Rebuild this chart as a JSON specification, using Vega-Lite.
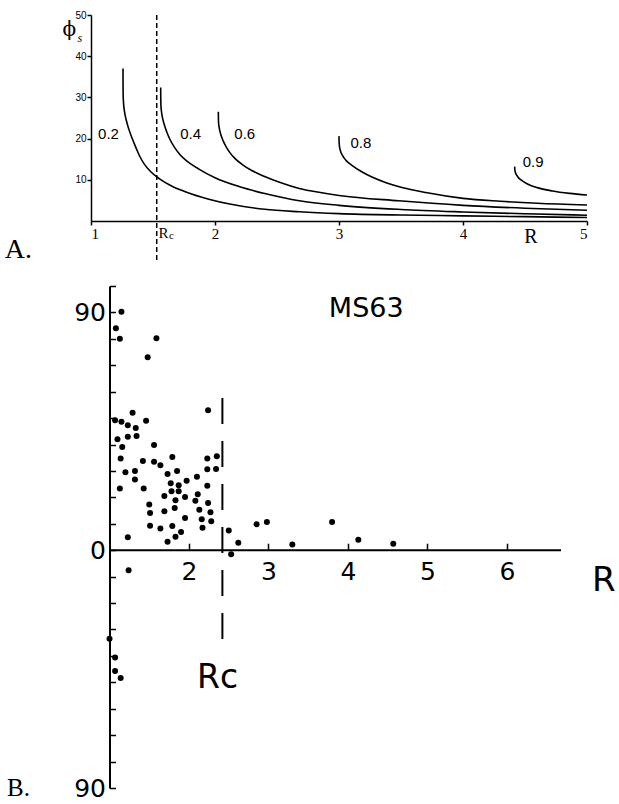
{
  "$schema": "https://vega.github.io/schema/vega-lite/v6.json",
  "padding": {"left": 4, "top": 10, "right": 5, "bottom": 5},
  "background": "white",
  "spacing": 65,
  "bounds": "flush",
  "config": {
    "view": {"stroke": null},
    "axis": {"grid": false, "domainColor": "black", "tickColor": "black", "labelColor": "black", "title": null}
  },
  "vconcat": [
    {
      "width": 496,
      "height": 206,
      "encoding": {
        "x": {"field": "R", "type": "quantitative", "scale": {"domain": [1, 5], "nice": false, "zero": false},
              "axis": {"values": [1, 2, 3, 4, 5], "format": "d", "labelFont": "Liberation Serif", "labelFontSize": 15, "tickSize": 4, "tickWidth": 1.5, "domainWidth": 1.5, "labelPadding": 1}},
        "y": {"field": "phi", "type": "quantitative", "scale": {"domain": [0, 50], "nice": false},
              "axis": {"values": [10, 20, 30, 40, 50], "labelFont": "Liberation Sans", "labelFontSize": 10, "tickSize": 4, "tickWidth": 1.5, "domainWidth": 1.5, "labelPadding": 1}}
      },
      "layer": [
        {
          "data": {"values": [
            {"c": "0.2", "R": 1.258, "phi": 37}, {"c": "0.2", "R": 1.2583, "phi": 34}, {"c": "0.2", "R": 1.259, "phi": 31}, {"c": "0.2", "R": 1.262, "phi": 28.8}, {"c": "0.2", "R": 1.27, "phi": 26.6}, {"c": "0.2", "R": 1.285, "phi": 24.4}, {"c": "0.2", "R": 1.305, "phi": 22.3}, {"c": "0.2", "R": 1.33, "phi": 20.2}, {"c": "0.2", "R": 1.36, "phi": 18.0}, {"c": "0.2", "R": 1.39, "phi": 15.9}, {"c": "0.2", "R": 1.43, "phi": 13.8}, {"c": "0.2", "R": 1.48, "phi": 12.0}, {"c": "0.2", "R": 1.55, "phi": 10.3}, {"c": "0.2", "R": 1.65, "phi": 8.5}, {"c": "0.2", "R": 1.76, "phi": 7.1}, {"c": "0.2", "R": 1.95, "phi": 5.3}, {"c": "0.2", "R": 2.14, "phi": 4.0}, {"c": "0.2", "R": 2.4, "phi": 2.85}, {"c": "0.2", "R": 2.68, "phi": 2.25}, {"c": "0.2", "R": 3.0, "phi": 1.8}, {"c": "0.2", "R": 3.5, "phi": 1.45}, {"c": "0.2", "R": 4.0, "phi": 1.25}, {"c": "0.2", "R": 4.5, "phi": 1.05}, {"c": "0.2", "R": 5.0, "phi": 0.85},
            {"c": "0.4", "R": 1.562, "phi": 32.4}, {"c": "0.4", "R": 1.5625, "phi": 30}, {"c": "0.4", "R": 1.564, "phi": 28}, {"c": "0.4", "R": 1.57, "phi": 26.2}, {"c": "0.4", "R": 1.58, "phi": 24.6}, {"c": "0.4", "R": 1.595, "phi": 23}, {"c": "0.4", "R": 1.615, "phi": 21.3}, {"c": "0.4", "R": 1.64, "phi": 19.6}, {"c": "0.4", "R": 1.675, "phi": 17.8}, {"c": "0.4", "R": 1.72, "phi": 16.0}, {"c": "0.4", "R": 1.78, "phi": 14.4}, {"c": "0.4", "R": 1.87, "phi": 12.6}, {"c": "0.4", "R": 2.0, "phi": 10.5}, {"c": "0.4", "R": 2.2, "phi": 8.3}, {"c": "0.4", "R": 2.41, "phi": 6.6}, {"c": "0.4", "R": 2.68, "phi": 4.9}, {"c": "0.4", "R": 3.0, "phi": 3.8}, {"c": "0.4", "R": 3.5, "phi": 2.8}, {"c": "0.4", "R": 4.0, "phi": 2.2}, {"c": "0.4", "R": 4.5, "phi": 1.75}, {"c": "0.4", "R": 5.0, "phi": 1.4},
            {"c": "0.6", "R": 2.027, "phi": 26.5}, {"c": "0.6", "R": 2.0275, "phi": 25}, {"c": "0.6", "R": 2.029, "phi": 23.8}, {"c": "0.6", "R": 2.035, "phi": 22.5}, {"c": "0.6", "R": 2.047, "phi": 21}, {"c": "0.6", "R": 2.065, "phi": 19.5}, {"c": "0.6", "R": 2.09, "phi": 18}, {"c": "0.6", "R": 2.12, "phi": 16.6}, {"c": "0.6", "R": 2.16, "phi": 15.2}, {"c": "0.6", "R": 2.22, "phi": 13.7}, {"c": "0.6", "R": 2.3, "phi": 12.2}, {"c": "0.6", "R": 2.4, "phi": 10.8}, {"c": "0.6", "R": 2.52, "phi": 9.4}, {"c": "0.6", "R": 2.68, "phi": 7.9}, {"c": "0.6", "R": 2.85, "phi": 6.9}, {"c": "0.6", "R": 3.0, "phi": 6.2}, {"c": "0.6", "R": 3.48, "phi": 4.9}, {"c": "0.6", "R": 4.0, "phi": 3.8}, {"c": "0.6", "R": 4.5, "phi": 3.1}, {"c": "0.6", "R": 5.0, "phi": 2.6},
            {"c": "0.8", "R": 3.0, "phi": 20.6}, {"c": "0.8", "R": 3.0005, "phi": 19.5}, {"c": "0.8", "R": 3.003, "phi": 18.3}, {"c": "0.8", "R": 3.012, "phi": 17.0}, {"c": "0.8", "R": 3.03, "phi": 15.8}, {"c": "0.8", "R": 3.06, "phi": 14.6}, {"c": "0.8", "R": 3.11, "phi": 13.4}, {"c": "0.8", "R": 3.18, "phi": 12.0}, {"c": "0.8", "R": 3.27, "phi": 10.6}, {"c": "0.8", "R": 3.38, "phi": 9.3}, {"c": "0.8", "R": 3.5, "phi": 8.2}, {"c": "0.8", "R": 3.7, "phi": 6.9}, {"c": "0.8", "R": 4.0, "phi": 5.5}, {"c": "0.8", "R": 4.3, "phi": 4.8}, {"c": "0.8", "R": 4.6, "phi": 4.3}, {"c": "0.8", "R": 5.0, "phi": 3.9},
            {"c": "0.9", "R": 4.417, "phi": 13.2}, {"c": "0.9", "R": 4.418, "phi": 12.4}, {"c": "0.9", "R": 4.425, "phi": 11.6}, {"c": "0.9", "R": 4.44, "phi": 10.8}, {"c": "0.9", "R": 4.47, "phi": 9.9}, {"c": "0.9", "R": 4.52, "phi": 9.0}, {"c": "0.9", "R": 4.6, "phi": 8.1}, {"c": "0.9", "R": 4.72, "phi": 7.3}, {"c": "0.9", "R": 4.86, "phi": 6.7}, {"c": "0.9", "R": 5.0, "phi": 6.3}
          ]},
          "mark": {"type": "line", "color": "black", "strokeWidth": 1.6, "interpolate": "monotone"},
          "encoding": {"detail": {"field": "c"}}
        },
        {
          "data": {"values": [{"R": 1.53, "phi": 50, "phi2": -9.5}]},
          "mark": {"type": "rule", "color": "black", "strokeWidth": 1.5, "strokeDash": [5, 3]},
          "encoding": {"y2": {"field": "phi2"}}
        },
        {
          "data": {"values": [
            {"t": "0.2", "R": 1.141, "phi": 21.1}, {"t": "0.4", "R": 1.804, "phi": 21.1}, {"t": "0.6", "R": 2.24, "phi": 21.1}, {"t": "0.8", "R": 3.177, "phi": 19.0}, {"t": "0.9", "R": 4.565, "phi": 14.4}
          ]},
          "mark": {"type": "text", "font": "Liberation Sans", "fontSize": 15, "color": "black", "baseline": "middle", "align": "center"},
          "encoding": {"text": {"field": "t"}}
        },
        {
          "data": {"values": [
            {"t": "R", "R": 1.585, "phi": -2.8, "fs": 15}, {"t": "c", "R": 1.649, "phi": -3.6, "fs": 11}, {"t": "R", "R": 4.548, "phi": -3.9, "fs": 20}
          ]},
          "mark": {"type": "text", "font": "Liberation Serif", "color": "black", "baseline": "middle", "align": "center"},
          "encoding": {"text": {"field": "t"}, "size": {"field": "fs", "type": "quantitative", "scale": null}}
        },
        {
          "data": {"values": [{"t": "ϕ", "R": 0.825, "phi": 46.4}]},
          "mark": {"type": "text", "font": "DejaVu Serif", "fontSize": 20, "color": "black", "baseline": "middle", "align": "center"},
          "encoding": {"text": {"field": "t"}}
        },
        {
          "data": {"values": [{"t": "s", "R": 0.909, "phi": 44.4}]},
          "mark": {"type": "text", "font": "Liberation Serif", "fontStyle": "italic", "fontSize": 12, "color": "black", "baseline": "middle", "align": "center"},
          "encoding": {"text": {"field": "t"}}
        },
        {
          "data": {"values": [{"t": "A.", "R": 0.305, "phi": -9.0}]},
          "mark": {"type": "text", "font": "Liberation Serif", "fontSize": 28, "color": "black", "baseline": "alphabetic", "align": "left"},
          "encoding": {"text": {"field": "t"}}
        }
      ]
    },
    {
      "width": 470,
      "height": 502,
      "encoding": {
        "x": {"field": "R", "type": "quantitative", "scale": {"domain": [0.767, 6.68], "nice": false, "zero": false},
              "axis": {"orient": "bottom", "offset": -237.8, "domain": false, "values": [2, 3, 4, 5, 6], "format": "d", "labelFont": "DejaVu Sans", "labelFontSize": 25, "tickSize": -7, "tickWidth": 1.5, "labelPadding": 16, "labelBaseline": "top"}},
        "y": {"field": "phi", "type": "quantitative", "scale": {"domain": [-90, 100], "nice": false},
              "axis": {"orient": "left", "offset": -18.5, "values": [-90, -80, -70, -60, -50, -40, -30, -20, -10, 0, 10, 20, 30, 40, 50, 60, 70, 80, 90, 100],
                       "labelExpr": "abs(datum.value) == 90 ? '90' : (datum.value == 0 ? '0' : '')", "labelFont": "DejaVu Sans", "labelFontSize": 25, "tickSize": -6, "tickWidth": 1.5, "domainWidth": 2, "labelPadding": 10}}
      },
      "layer": [
        {
          "data": {"values": [{"R": 1.0, "R2": 6.68, "phi": 0}]},
          "mark": {"type": "rule", "color": "black", "strokeWidth": 2},
          "encoding": {"x2": {"field": "R2"}}
        },
        {
          "data": {"values": [{"R": 2.42, "phi": 57.6, "phi2": -37.9}]},
          "mark": {"type": "rule", "color": "black", "strokeWidth": 2, "strokeDash": [26, 17]},
          "encoding": {"y2": {"field": "phi2"}}
        },
        {
          "data": {"values": [
            {"R": 1.15, "phi": 90.3}, {"R": 1.08, "phi": 84}, {"R": 1.13, "phi": 80}, {"R": 1.59, "phi": 80.2}, {"R": 1.48, "phi": 73}, {"R": 2.24, "phi": 53}, {"R": 1.29, "phi": 52}, {"R": 1.07, "phi": 49.2}, {"R": 1.15, "phi": 48.6}, {"R": 1.46, "phi": 49},
            {"R": 1.23, "phi": 47.3}, {"R": 1.33, "phi": 46.3}, {"R": 1.23, "phi": 42.9}, {"R": 1.34, "phi": 43.2}, {"R": 1.10, "phi": 42}, {"R": 1.16, "phi": 39.1}, {"R": 1.56, "phi": 39.8}, {"R": 1.14, "phi": 34.7}, {"R": 1.42, "phi": 33.8}, {"R": 1.56, "phi": 33.5},
            {"R": 1.64, "phi": 32.2}, {"R": 1.79, "phi": 35.3}, {"R": 2.23, "phi": 34.7}, {"R": 2.35, "phi": 35.6}, {"R": 1.20, "phi": 29.5}, {"R": 1.32, "phi": 30}, {"R": 1.73, "phi": 28.8}, {"R": 1.85, "phi": 30}, {"R": 2.23, "phi": 30.6}, {"R": 2.34, "phi": 30.7},
            {"R": 1.32, "phi": 26.8}, {"R": 1.77, "phi": 25.3}, {"R": 1.87, "phi": 24.6}, {"R": 1.97, "phi": 26.3}, {"R": 2.10, "phi": 27.8}, {"R": 2.23, "phi": 24.4}, {"R": 1.13, "phi": 23.4}, {"R": 1.43, "phi": 23.4}, {"R": 1.78, "phi": 22.3}, {"R": 1.87, "phi": 22.3},
            {"R": 1.69, "phi": 20.5}, {"R": 1.83, "phi": 18.9}, {"R": 1.95, "phi": 20.1}, {"R": 2.11, "phi": 21.2}, {"R": 2.08, "phi": 18.7}, {"R": 2.24, "phi": 17.9}, {"R": 1.50, "phi": 17.3}, {"R": 1.51, "phi": 14.1}, {"R": 1.69, "phi": 14.7}, {"R": 1.82, "phi": 16},
            {"R": 2.13, "phi": 15.3}, {"R": 2.27, "phi": 14.4}, {"R": 1.95, "phi": 12.2}, {"R": 2.16, "phi": 11.7}, {"R": 2.28, "phi": 11}, {"R": 1.51, "phi": 9.3}, {"R": 1.64, "phi": 8.2}, {"R": 1.79, "phi": 9.2}, {"R": 2.17, "phi": 8.5}, {"R": 1.90, "phi": 6.9},
            {"R": 1.83, "phi": 5.1}, {"R": 1.73, "phi": 3.2}, {"R": 1.23, "phi": 4.9}, {"R": 2.50, "phi": 7.5}, {"R": 2.62, "phi": 2.8}, {"R": 2.53, "phi": -1.5}, {"R": 2.85, "phi": 9.8}, {"R": 2.98, "phi": 10.7}, {"R": 3.30, "phi": 2.2}, {"R": 3.80, "phi": 10.7},
            {"R": 4.13, "phi": 4.0}, {"R": 4.57, "phi": 2.4}, {"R": 1.24, "phi": -7.6}, {"R": 1.00, "phi": -33.5}, {"R": 1.07, "phi": -40.6}, {"R": 1.07, "phi": -45.7}, {"R": 1.14, "phi": -48.4}
          ]},
          "mark": {"type": "circle", "color": "black", "opacity": 1, "size": 36}
        },
        {
          "data": {"values": [
            {"t": "MS63", "R": 4.23, "phi": 91.3, "fs": 27}, {"t": "R", "R": 7.22, "phi": -11.6, "fs": 34}, {"t": "Rc", "R": 2.36, "phi": -48.5, "fs": 33}
          ]},
          "mark": {"type": "text", "font": "DejaVu Sans", "color": "black", "baseline": "middle", "align": "center"},
          "encoding": {"text": {"field": "t"}, "size": {"field": "fs", "type": "quantitative", "scale": null}}
        },
        {
          "data": {"values": [{"t": "B.", "R": -0.29, "phi": -93.2}]},
          "mark": {"type": "text", "font": "Liberation Serif", "fontSize": 25, "color": "black", "baseline": "alphabetic", "align": "left"},
          "encoding": {"text": {"field": "t"}}
        }
      ]
    }
  ]
}
